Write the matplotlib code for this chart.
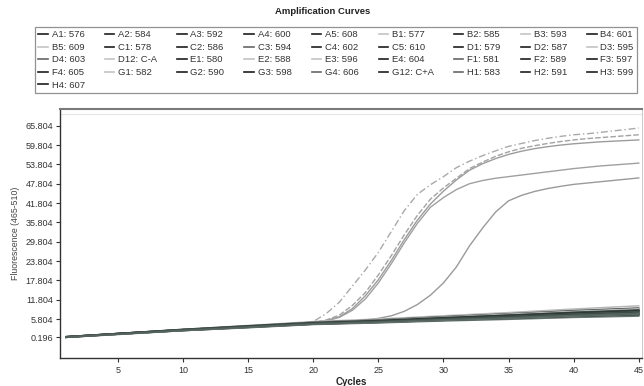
import matplotlib
matplotlib.use("Agg")
import matplotlib.pyplot as plt
from matplotlib.lines import Line2D

plt.rcParams['font.family'] = ['Liberation Sans', 'DejaVu Sans']

# ---------------- data ----------------
legend_rows = [
    ["A1: 576", "A2: 584", "A3: 592", "A4: 600", "A5: 608", "B1: 577", "B2: 585", "B3: 593", "B4: 601"],
    ["B5: 609", "C1: 578", "C2: 586", "C3: 594", "C4: 602", "C5: 610", "D1: 579", "D2: 587", "D3: 595"],
    ["D4: 603", "D12: C-A", "E1: 580", "E2: 588", "E3: 596", "E4: 604", "F1: 581", "F2: 589", "F3: 597"],
    ["F4: 605", "G1: 582", "G2: 590", "G3: 598", "G4: 606", "G12: C+A", "H1: 583", "H2: 591", "H3: 599"],
    ["H4: 607"],
]

cycles = list(range(1, 46))

# amplified wells (value at every cycle)
amp_labels = ["B1: 577", "E2: 588", "B3: 593", "E3: 596", "G1: 582"]
amp_B1 = [0.2, 0.45, 0.7, 0.95, 1.2, 1.45, 1.7, 1.95, 2.2, 2.45, 2.7, 2.9, 3.1, 3.3, 3.5,
          3.7, 3.9, 4.1, 4.4, 5.0, 7.5, 11.0, 16.0, 21.0, 26.5, 33.0, 39.5, 44.5, 47.5, 50.0,
          52.8, 54.8, 56.5, 58.0, 59.4, 60.3, 61.2, 61.9, 62.5, 63.0, 63.3, 63.7, 64.2, 64.6, 65.1]
amp_E2 = [0.2, 0.45, 0.7, 0.95, 1.2, 1.45, 1.7, 1.95, 2.2, 2.45, 2.7, 2.9, 3.1, 3.3, 3.5,
          3.7, 3.9, 4.1, 4.4, 4.8, 5.5, 7.0, 10.0, 14.0, 19.5, 25.5, 32.0, 38.0, 43.0, 46.5,
          49.5, 52.5, 54.5, 56.3, 57.7, 58.8, 59.6, 60.3, 60.9, 61.4, 61.8, 62.1, 62.4, 62.7, 63.0]
amp_B3 = [0.2, 0.45, 0.7, 0.95, 1.2, 1.45, 1.7, 1.95, 2.2, 2.45, 2.7, 2.9, 3.1, 3.3, 3.5,
          3.7, 3.9, 4.1, 4.4, 4.7, 5.3, 6.5, 9.0, 13.0, 18.0, 24.0, 30.5, 36.5, 41.5, 45.5,
          49.0, 52.0, 54.0, 55.6, 56.9, 57.9, 58.7, 59.3, 59.8, 60.2, 60.5, 60.8, 61.0, 61.2, 61.4]
amp_E3 = [0.2, 0.45, 0.7, 0.95, 1.2, 1.45, 1.7, 1.95, 2.2, 2.45, 2.7, 2.9, 3.1, 3.3, 3.5,
          3.7, 3.9, 4.1, 4.4, 4.7, 5.2, 6.3, 8.5, 12.0, 17.0, 23.0, 29.5, 35.5, 40.5, 43.5,
          46.0, 47.8, 48.8, 49.5, 50.0, 50.5, 51.0, 51.5, 52.0, 52.5, 52.9, 53.3, 53.6, 53.9, 54.2]
amp_G1 = [0.2, 0.45, 0.7, 0.95, 1.2, 1.45, 1.7, 1.95, 2.2, 2.45, 2.7, 2.9, 3.1, 3.3, 3.5,
          3.7, 3.9, 4.1, 4.3, 4.6, 4.8, 5.0, 5.2, 5.5, 6.0, 6.8, 8.2, 10.3, 13.2, 17.0,
          22.0, 28.5, 34.0, 39.0, 42.5, 44.2, 45.4, 46.3, 47.0, 47.6, 48.0, 48.4, 48.8, 49.2, 49.6]
amp_values = [amp_B1, amp_E2, amp_B3, amp_E3, amp_G1]

# non-amplified wells (values read at these cycles)
base_cycles = [1, 5, 10, 15, 20, 25, 30, 35, 40, 45]
base_labels = ["A1: 576", "A2: 584", "A3: 592", "A4: 600", "A5: 608", "B2: 585", "B4: 601",
               "B5: 609", "C1: 578", "C2: 586", "C3: 594", "C4: 602", "C5: 610", "D1: 579",
               "D2: 587", "D3: 595", "D4: 603", "D12: C-A", "E1: 580", "E4: 604", "F1: 581",
               "F2: 589", "F3: 597", "F4: 605", "G2: 590", "G3: 598", "G4: 606", "G12: C+A",
               "H1: 583", "H2: 591", "H3: 599", "H4: 607"]
base_values = [
    [0.2, 1.2, 2.4, 3.4, 4.4, 5.0, 5.8, 6.4, 7.2, 7.8],
    [0.2, 1.1, 2.3, 3.3, 4.3, 4.9, 5.6, 6.2, 6.9, 7.5],
    [0.3, 1.3, 2.5, 3.5, 4.6, 5.2, 6.0, 6.7, 7.5, 8.1],
    [0.1, 1.1, 2.2, 3.2, 4.2, 4.7, 5.4, 6.0, 6.6, 7.1],
    [0.2, 1.2, 2.4, 3.5, 4.5, 5.1, 5.9, 6.6, 7.4, 8.0],
    [0.2, 1.2, 2.3, 3.4, 4.4, 5.0, 5.7, 6.3, 7.0, 7.6],
    [0.3, 1.3, 2.5, 3.6, 4.7, 5.4, 6.3, 7.1, 8.0, 8.7],
    [0.3, 1.3, 2.6, 3.8, 5.0, 5.8, 6.8, 7.8, 8.9, 9.9],
    [0.1, 1.0, 2.2, 3.1, 4.1, 4.6, 5.2, 5.7, 6.3, 6.7],
    [0.2, 1.2, 2.4, 3.4, 4.5, 5.1, 5.8, 6.5, 7.3, 7.9],
    [0.2, 1.2, 2.4, 3.5, 4.6, 5.3, 6.1, 6.9, 7.7, 8.4],
    [0.2, 1.1, 2.3, 3.3, 4.3, 4.8, 5.5, 6.1, 6.8, 7.3],
    [0.3, 1.3, 2.6, 3.7, 4.8, 5.5, 6.5, 7.4, 8.4, 9.2],
    [0.2, 1.2, 2.4, 3.4, 4.4, 4.9, 5.6, 6.2, 6.9, 7.4],
    [0.2, 1.2, 2.5, 3.5, 4.6, 5.2, 6.0, 6.8, 7.6, 8.2],
    [0.2, 1.2, 2.5, 3.6, 4.7, 5.4, 6.4, 7.3, 8.2, 9.0],
    [0.1, 1.1, 2.3, 3.3, 4.3, 4.9, 5.6, 6.3, 7.0, 7.6],
    [0.2, 1.2, 2.4, 3.4, 4.5, 5.0, 5.7, 6.4, 7.1, 7.7],
    [0.2, 1.2, 2.3, 3.3, 4.3, 4.8, 5.4, 5.9, 6.5, 7.0],
    [0.2, 1.2, 2.4, 3.5, 4.5, 5.1, 5.9, 6.6, 7.4, 8.1],
    [0.2, 1.1, 2.3, 3.4, 4.4, 5.0, 5.7, 6.3, 7.1, 7.7],
    [0.3, 1.3, 2.5, 3.6, 4.7, 5.3, 6.2, 7.0, 7.9, 8.6],
    [0.2, 1.2, 2.4, 3.4, 4.4, 4.9, 5.5, 6.1, 6.7, 7.2],
    [0.2, 1.2, 2.4, 3.5, 4.5, 5.2, 6.0, 6.7, 7.5, 8.2],
    [0.1, 1.1, 2.2, 3.2, 4.2, 4.8, 5.4, 6.0, 6.6, 7.2],
    [0.2, 1.2, 2.4, 3.5, 4.6, 5.2, 6.0, 6.8, 7.7, 8.4],
    [0.2, 1.2, 2.4, 3.4, 4.4, 5.0, 5.8, 6.5, 7.2, 7.8],
    [0.3, 1.3, 2.5, 3.6, 4.6, 5.3, 6.2, 7.0, 7.8, 8.5],
    [0.2, 1.1, 2.3, 3.3, 4.3, 4.8, 5.5, 6.1, 6.8, 7.4],
    [0.2, 1.2, 2.4, 3.4, 4.4, 5.0, 5.7, 6.3, 7.0, 7.5],
    [0.2, 1.2, 2.4, 3.5, 4.5, 5.1, 5.9, 6.6, 7.3, 8.0],
    [0.2, 1.1, 2.3, 3.3, 4.3, 4.9, 5.6, 6.2, 6.9, 7.5],
]

ytick_values = [0.196, 5.804, 11.804, 17.804, 23.804, 29.804, 35.804, 41.804, 47.804, 53.804, 59.804, 65.804]
ytick_labels = ["0.196", "5.804", "11.804", "17.804", "23.804", "29.804", "35.804",
                "41.804", "47.804", "53.804", "59.804", "65.804"]
xtick_values = [5, 10, 15, 20, 25, 30, 35, 40, 45]

# ---------------- styles ----------------
light_wells = {"B5: 609", "D3: 595", "D12: C-A"}
mid_wells = {"D4: 603", "C3: 594", "G4: 606", "F1: 581", "H1: 583"}
base_palette = ["#3e4c48", "#56645f", "#2f3a37", "#66746f", "#4a5853"]
amp_styles = [
    dict(color="#a9a9a9", ls=(0, (5, 2, 1, 2)), lw=1.0),
    dict(color="#a3a3a3", ls=(0, (4, 1.5)), lw=1.0),
    dict(color="#9c9c9c", ls="-", lw=1.0),
    dict(color="#a0a0a0", ls="-", lw=1.0),
    dict(color="#9a9a9a", ls="-", lw=1.0),
]

fig = plt.figure(figsize=(6.44, 3.86), dpi=100)
ax = fig.add_axes([60 / 644, 1 - 358 / 386, 582 / 644, (358 - 109) / 386])

handles = {}
for i, (lab, vals) in enumerate(zip(base_labels, base_values)):
    if lab in light_wells:
        col, hcol = "#b8b8b8", "#c4c4c4"
    elif lab in mid_wells:
        col, hcol = "#7a8783", "#666666"
    else:
        col, hcol = base_palette[i % len(base_palette)], "#1e1e1e"
    ax.plot(base_cycles, vals, color=col, lw=1.1, zorder=3)
    handles[lab] = Line2D([], [], color=hcol, lw=1.2)

for lab, vals, st in zip(amp_labels, amp_values, amp_styles):
    ax.plot(cycles, vals, color=st["color"], ls=st["ls"], lw=st["lw"], zorder=2)
    handles[lab] = Line2D([], [], color="#c4c4c4", lw=1.2)

ax.set_xlim(0.55, 45.25)
ax.set_ylim(-6.3, 71.0)
ax.set_xticks(xtick_values)
ax.set_xticklabels([str(v) for v in xtick_values])
ax.set_yticks(ytick_values)
ax.set_yticklabels(ytick_labels)
ax.tick_params(axis="both", labelsize=6.5, colors="#333333", length=3, width=0.8, direction="out")
ax.tick_params(axis="x", pad=3)
ax.tick_params(axis="y", pad=2)

for side in ["left", "bottom"]:
    ax.spines[side].set_color("#333333")
    ax.spines[side].set_linewidth(1.0)
ax.spines["top"].set_color("#7a7a7a")
ax.spines["top"].set_linewidth(1.5)
ax.spines["right"].set_color("#cccccc")
ax.axhline(69.6, color="#e6e6e6", lw=0.8, zorder=1)

ax.set_xlabel("Cycles", fontsize=7, fontweight="bold", labelpad=1, color="#222222")
ax.set_ylabel("Fluorescence (465-510)", fontsize=6.3, color="#444444", labelpad=4)

fig.text(323 / 644, 1 - 11 / 386, "Amplification Curves", ha="center", va="center",
         fontsize=6.8, fontweight="bold", color="#222222")

# legend: reference reads row-wise; matplotlib fills column-wise
ncol = 9
order = []
for c in range(ncol):
    for row in legend_rows:
        if c < len(row):
            order.append(row[c])
leg = fig.legend([handles[l] for l in order], order, ncol=ncol,
                 loc="upper left", bbox_to_anchor=(35 / 644, 1 - 27 / 386, 602 / 644, 0.0),
                 mode="expand", fontsize=6.8, frameon=True, fancybox=False,
                 handlelength=1.0, handletextpad=0.4, columnspacing=0.8,
                 labelspacing=0.38, borderpad=0.35, borderaxespad=0.0)
leg.get_frame().set_edgecolor("#777777")
leg.get_frame().set_linewidth(0.9)
for t in leg.get_texts():
    t.set_color("#333333")

fig.savefig("out.png", dpi=100)
